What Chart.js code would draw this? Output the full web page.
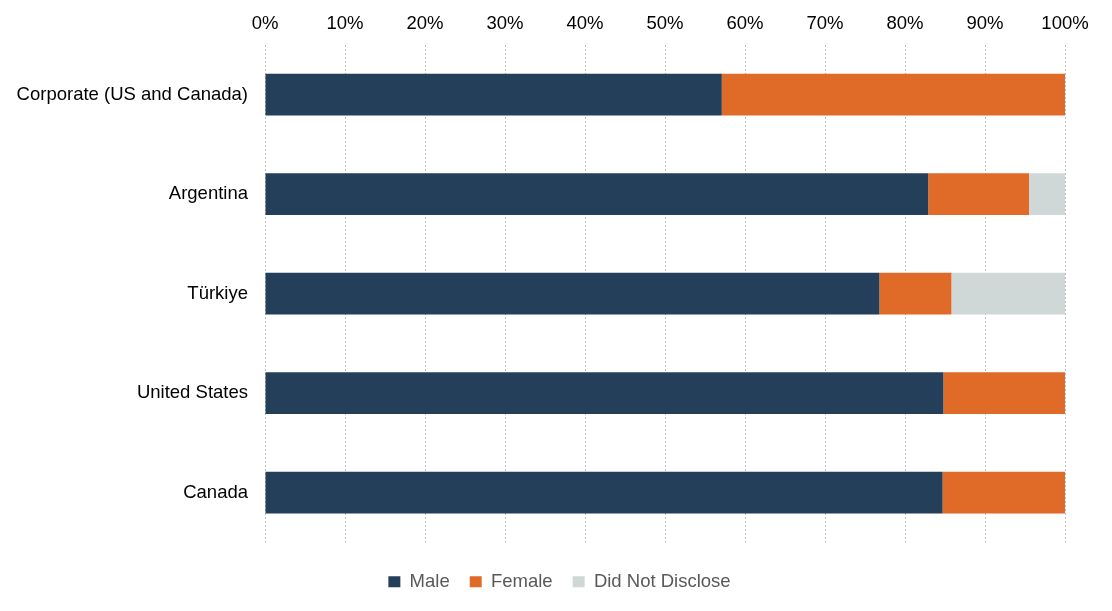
<!DOCTYPE html>
<html>
<head>
<meta charset="utf-8">
<script src="https://cdn.jsdelivr.net/npm/chart.js@4"></script>
<style>
  html, body { margin: 0; padding: 0; background: #fff; }
  #wrap { width: 1112px; height: 611px; }
</style>
</head>
<body>
<div id="wrap"><canvas id="grafico"></canvas></div>
<script>
// dados (percentuais)
const categorias = ['Corporate (US and Canada)', 'Argentina', 'Türkiye', 'United States', 'Canada'];
const masculino = [57.1, 82.9, 76.8, 84.8, 84.7];
const feminino = [42.9, 12.6, 9.0, 15.2, 15.3];
const naoInformado = [0, 4.5, 14.2, 0, 0];
const ticksX = [0, 10, 20, 30, 40, 50, 60, 70, 80, 90, 100];

const fonte = "Arial, 'Liberation Sans', sans-serif";

// desloca a legenda um pouco pra direita (centro do original fica ~559px)
const moverLegenda = {
  id: 'moverLegenda',
  afterLayout(chart) {
    if (!chart.legend) return;
    chart.legend.left += 27;
    chart.legend.right += 27;
  }
};

const ctx = document.getElementById('grafico').getContext('2d');
new Chart(ctx, {
  type: 'bar',
  data: {
    labels: categorias,
    datasets: [
      { label: 'Male', data: masculino, backgroundColor: '#243F5A' },
      { label: 'Female', data: feminino, backgroundColor: '#E06A28' },
      { label: 'Did Not Disclose', data: naoInformado, backgroundColor: '#CFD8D7' }
    ]
  },
  plugins: [moverLegenda],
  options: {
    indexAxis: 'y',
    responsive: true,
    maintainAspectRatio: false,
    animation: false,
    categoryPercentage: 1,
    barPercentage: 0.42,
    layout: { padding: { left: 0, right: 47, top: 0, bottom: 10 } },
    plugins: {
      tooltip: { enabled: false },
      legend: {
        position: 'bottom',
        // título vazio só para abrir espaço entre o gráfico e a legenda
        title: { display: true, text: '', font: { size: 1 }, padding: { top: 0, bottom: 9 } },
        labels: {
          boxWidth: 12,
          boxHeight: 11,
          padding: 20,
          color: '#595959',
          font: { family: fonte, size: 18.5 }
        }
      }
    },
    scales: {
      x: {
        position: 'top',
        stacked: true,
        min: 0,
        max: 100,
        afterBuildTicks: axis => { axis.ticks = ticksX.map(v => ({ value: v })); },
        afterFit: axis => { axis.height = 45; },
        ticks: {
          color: '#000',
          padding: 10,
          font: { family: fonte, size: 18.5 },
          callback: v => v + '%'
        },
        grid: {
          color: '#BFBFBF',
          drawTicks: false
        },
        border: { display: false, dash: [2, 2] }
      },
      y: {
        stacked: true,
        afterFit: axis => { axis.width = 265; },
        ticks: {
          color: '#000',
          padding: 9,
          font: { family: fonte, size: 18.5 }
        },
        grid: { display: false },
        border: { display: false }
      }
    }
  }
});
</script>
</body>
</html>
